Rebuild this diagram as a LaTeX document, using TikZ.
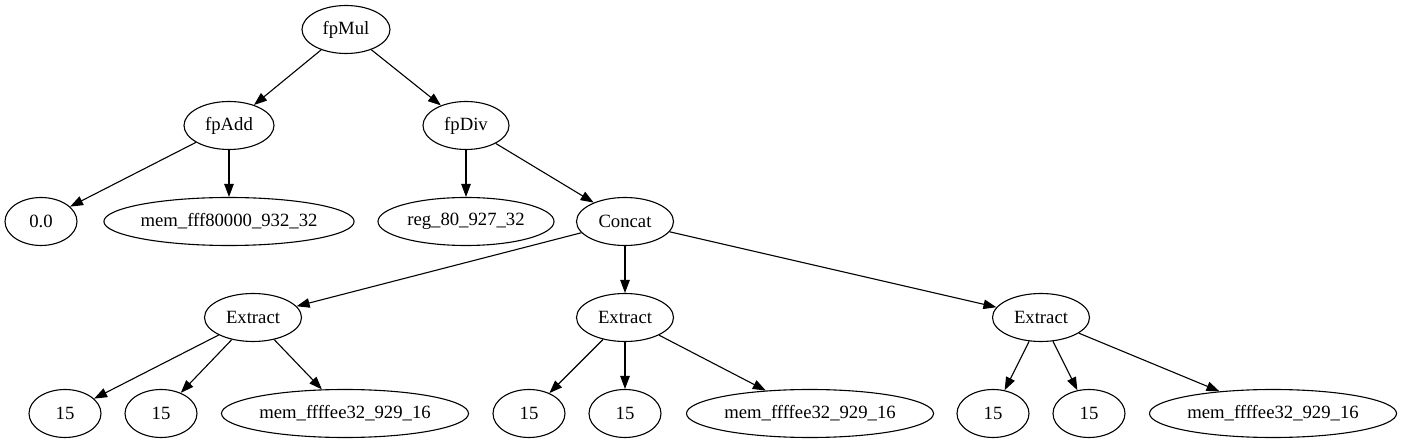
\documentclass[tikz,border=0pt]{standalone}
\usepackage{fontspec}
\setmainfont{Liberation Serif}
\usetikzlibrary{shapes.geometric,arrows.meta}
\begin{document}
\begin{tikzpicture}[x=1pt, y=-1pt,
  every node/.style={draw, shape=ellipse, line width=1.1pt, minimum height=48pt, minimum width=72pt, inner sep=0pt, font=\fontsize{18.7}{22}\selectfont},
  ed/.style={-{Triangle[length=13pt, width=9.5pt]}, line width=1.1pt}]
\useasboundingbox (0,0) rectangle (1403,443);
\node (mul) at (346,29.5) [minimum width=88pt] {fpMul};
\node (add) at (229,125.5) [minimum width=90pt] {fpAdd};
\node (div) at (466,125.5) [minimum width=86pt] {fpDiv};
\node (zero) at (41,221.5) {0.0};
\node (memA) at (229,221.5) [minimum width=250pt] {mem\_fff80000\_932\_32};
\node (reg) at (466,221.5) [minimum width=176pt] {reg\_80\_927\_32};
\node (cat) at (625,221.5) [minimum width=97pt] {Concat};
\node (exA) at (253,317.5) [minimum width=97pt] {Extract};
\node (exB) at (625,317.5) [minimum width=97pt] {Extract};
\node (exC) at (1041,317.5) [minimum width=97pt] {Extract};
\node (aL) at (65,413.5) {15};
\node (aM) at (161,413.5) {15};
\node (aR) at (345,413.5) [minimum width=247pt] {mem\_ffffee32\_929\_16};
\node (bL) at (529,413.5) {15};
\node (bM) at (625,413.5) {15};
\node (bR) at (810,413.5) [minimum width=247pt] {mem\_ffffee32\_929\_16};
\node (cL) at (993,413.5) {15};
\node (cM) at (1089,413.5) {15};
\node (cR) at (1273,413.5) [minimum width=247pt] {mem\_ffffee32\_929\_16};
\draw[ed] (mul) -- (add);
\draw[ed] (mul) -- (div);
\draw[ed] (add) -- (zero);
\draw[ed] (add) -- (memA);
\draw[ed] (div) -- (reg);
\draw[ed] (div) -- (cat);
\draw[ed] (cat) -- (exA);
\draw[ed] (cat) -- (exB);
\draw[ed] (cat) -- (exC);
\draw[ed] (exA) -- (aL);
\draw[ed] (exA) -- (aM);
\draw[ed] (exA) -- (aR);
\draw[ed] (exB) -- (bL);
\draw[ed] (exB) -- (bM);
\draw[ed] (exB) -- (bR);
\draw[ed] (exC) -- (cL);
\draw[ed] (exC) -- (cM);
\draw[ed] (exC) -- (cR);
\end{tikzpicture}
\end{document}
